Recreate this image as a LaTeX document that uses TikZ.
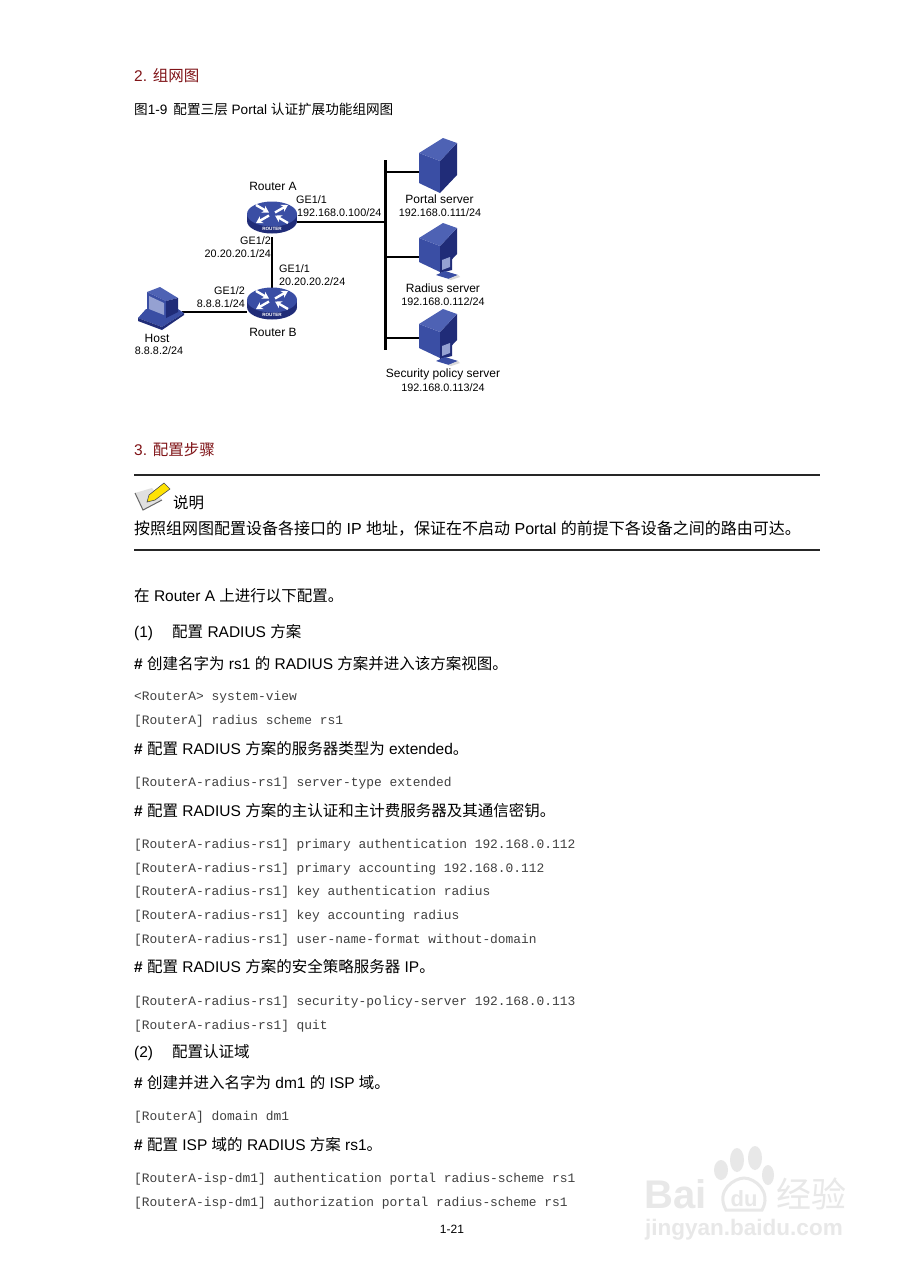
\documentclass[tikz,border=0pt]{standalone}
\usepackage{fontspec}
\setmainfont{Liberation Sans}
\setmonofont{Liberation Mono}
\newfontfamily\cjk{Noto Sans CJK SC}
\usetikzlibrary{arrows.meta, calc}
\newcommand{\zh}[1]{{\cjk #1}}
\definecolor{headred}{RGB}{128,20,24}
\definecolor{iconblue}{RGB}{58,78,164}
\definecolor{icondark}{RGB}{32,44,120}
\definecolor{iconlight}{RGB}{78,98,180}
\definecolor{wmgray}{RGB}{232,232,232}
\tikzset{
    body/.style={anchor=base west, inner sep=0pt, font=\fontsize{15.5}{18}\selectfont},
    heading/.style={body, text=headred},
    code/.style={anchor=base west, inner sep=0pt, text=black!75, font=\ttfamily\fontsize{12.9}{15}\selectfont},
    devlabel/.style={inner sep=0pt, font=\fontsize{12}{14}\selectfont},
    iplabel/.style={inner sep=0pt, font=\fontsize{10.8}{13}\selectfont},
    devbox/.style={inner sep=0pt, minimum width=#1, minimum height=30pt},
    link/.style={line width=2pt},
    bus/.style={line width=3pt},
    rulebar/.style={line width=2pt, black!85},
    mark arrow/.style={white, line width=2.4pt, -{Stealth[length=6.5pt,width=7.5pt]}},
}
% Router drawn around the centre of its node
\newcommand{\routericon}[1]{
    \begin{scope}[shift={(#1)}, yshift=8pt]
        \fill[icondark] (0,7) ellipse (25 and 12.5);
        \fill[icondark] (-25,0) rectangle (25,7);
        \fill[iconblue] (0,0) ellipse (25 and 12.5);
        \draw[mark arrow] (-16,-9) -- (-3,-1.5);
        \draw[mark arrow] (3,-1.5) -- (16,-9);
        \draw[mark arrow] (-3,1.5) -- (-16,9);
        \draw[mark arrow] (16,9) -- (3,1.5);
        \node[inner sep=0pt, white, font=\bfseries\fontsize{4.6}{5}\selectfont] at (0,15) {ROUTER};
    \end{scope}
}
% Tower, from its top left corner
\newcommand{\towericon}[2]{
    \begin{scope}[shift={(#1)}]
        \fill[iconblue] (0,15) -- (21,23) -- (21,#2) -- (0,{#2-10}) -- cycle;
        \fill[icondark] (21,23) -- (38,5) -- (38,{#2-18}) -- (21,#2) -- cycle;
        \fill[iconlight] (0,15) -- (24,0) -- (38,5) -- (21,23) -- cycle;
    \end{scope}
}
% Small screen and keyboard in front of a tower
\newcommand{\screenicon}[1]{
    \begin{scope}[shift={(#1)}]
        \fill[icondark] (21,35) -- (33,31) -- (33,47) -- (21,50) -- cycle;
        \fill[iconlight!60] (23,37) -- (31,34) -- (31,44) -- (23,47) -- cycle;
        \fill[iconblue] (17,52) -- (26,48) -- (39,52) -- (30,56) -- cycle;
        \fill[black!15] (29,56) -- (39,52) -- (41,54) -- (32,57) -- cycle;
    \end{scope}
}
\begin{document}
\begin{tikzpicture}[x=1pt, y=-1pt]
    \useasboundingbox (0,0) rectangle (905,1280);
    \fill[white] (0,0) rectangle (905,1280);

    % Headings of the page
    \node[heading] (headTwo) at (134,81) {2. \zh{组网图}};
    \node[body, font=\fontsize{13.6}{16}\selectfont] (figTitle) at (134,114) {\zh{图}1-9\hspace{6pt}\zh{配置三层} Portal \zh{认证扩展功能组网图}};
    \node[heading] (headThree) at (134,455) {3. \zh{配置步骤}};

    % Device nodes
    \node[devbox=50pt] (routerA) at (272,222) {};
    \node[devbox=50pt] (routerB) at (272,308) {};
    \node[devbox=44pt] (host) at (160,312) {};
    \node[devbox=36pt] (portal) at (437,172) {};
    \node[devbox=36pt] (radius) at (437,257) {};
    \node[devbox=36pt] (policy) at (437,338) {};
    \coordinate (busTop) at (385,160);
    \coordinate (busBot) at (385,350);

    % Connectors
    \draw[bus] (busTop) -- (busBot);
    \draw[link] (routerA) -- (routerA -| busTop);
    \draw[link] (routerA) -- (routerB);
    \draw[link] (host.east) -- (host.east -| routerB.west);
    \draw[link] (portal.west) -- (portal.west -| busTop);
    \draw[link] (radius.west) -- (radius.west -| busTop);
    \draw[link] (policy.west) -- (policy.west -| busTop);

    % Icons
    \routericon{routerA}
    \routericon{routerB}
    \towericon{419,138}{55}
    \towericon{419,223}{49}
    \screenicon{419,223}
    \towericon{419,309}{49}
    \screenicon{419,309}
    % Host terminal
    \fill[iconblue] (146,309) -- (178,309) -- (184,313) -- (162,327) -- (138,318) -- cycle;
    \fill[icondark] (138,318) -- (162,327) -- (184,313) -- (184,315) -- (162,330) -- (138,321) -- cycle;
    \fill[iconlight] (147,292) -- (160,287) -- (178,298) -- (166,301) -- cycle;
    \fill[iconblue] (147,292) -- (166,301) -- (166,318) -- (147,311) -- cycle;
    \fill[icondark] (166,301) -- (178,298) -- (178,312) -- (166,318) -- cycle;
    \fill[iconlight!60] (149,296) -- (164,303) -- (164,315) -- (149,309) -- cycle;

    % Device labels
    \node[devlabel] (routerAname) at (273,186) {Router A};
    \node[devlabel] (routerBname) at (273,332) {Router B};
    \node[devlabel] (hostName) at (157,338) {Host};
    \node[iplabel] (hostIp) at (159,351) {8.8.8.2/24};
    \node[devlabel] (portalName) at (439.5,199) {Portal server};
    \node[iplabel] (portalIp) at (440,213) {192.168.0.111/24};
    \node[devlabel] (radiusName) at (443,288) {Radius server};
    \node[iplabel] (radiusIp) at (443,302) {192.168.0.112/24};
    \node[devlabel] (policyName) at (443,374) {Security policy server};
    \node[iplabel] (policyIp) at (443,388) {192.168.0.113/24};

    % Interface labels
    \node[iplabel, anchor=west] (ifAone) at (296,200) {GE1/1};
    \node[iplabel, anchor=west] (ipAone) at (297,213) {192.168.0.100/24};
    \node[iplabel, anchor=east] (ifAtwo) at (271,241) {GE1/2};
    \node[iplabel, anchor=east] (ipAtwo) at (271,254) {20.20.20.1/24};
    \node[iplabel, anchor=west] (ifBone) at (279,269) {GE1/1};
    \node[iplabel, anchor=west] (ipBone) at (279,282) {20.20.20.2/24};
    \node[iplabel, anchor=east] (ifBtwo) at (245,291) {GE1/2};
    \node[iplabel, anchor=east] (ipBtwo) at (245,304) {8.8.8.1/24};

    % Note box
    \draw[rulebar] (134,474.5) -- (820,474.5);
    \draw[rulebar] (134,549.5) -- (820,549.5);
    \fill[black!12] (135,493) -- (152,488) -- (162,500) -- (143,510) -- cycle;
    \draw[black!60, line width=1pt] (135,493) -- (143,510) -- (162,500);
    \fill[yellow!85!orange] (147,502) -- (149,495) -- (164,483) -- (170,489) -- (155,500) -- cycle;
    \draw[black!70, line width=0.6pt] (147,502) -- (149,495) -- (164,483) -- (170,489) -- (155,500) -- cycle;
    \node[body] (noteHead) at (173,508) {\zh{说明}};
    \node[body, font=\fontsize{16}{18}\selectfont] (noteText) at (134,534) {\zh{按照组网图配置设备各接口的} IP \zh{地址\char"FF0C 保证在不启动} Portal \zh{的前提下各设备之间的路由可达。}};

    % Text lines
    \node[body] (introLine) at (134,601) {\zh{在} Router A \zh{上进行以下配置。}};
    \node[body] (stepOne) at (134,637) {(1)};
    \node[body] (stepOneText) at (172,637) {\zh{配置} RADIUS \zh{方案}};
    \node[body] (stepTwo) at (134,1057) {(2)};
    \node[body] (stepTwoText) at (172,1057) {\zh{配置认证域}};
    \foreach \y/\txt in {
        669/{\textbf{\#} \zh{创建名字为} rs1 \zh{的} RADIUS \zh{方案并进入该方案视图。}},
        754/{\textbf{\#} \zh{配置} RADIUS \zh{方案的服务器类型为} extended\zh{。}},
        816/{\textbf{\#} \zh{配置} RADIUS \zh{方案的主认证和主计费服务器及其通信密钥。}},
        972/{\textbf{\#} \zh{配置} RADIUS \zh{方案的安全策略服务器} IP\zh{。}},
        1088/{\textbf{\#} \zh{创建并进入名字为} dm1 \zh{的} ISP \zh{域。}},
        1150/{\textbf{\#} \zh{配置} ISP \zh{域的} RADIUS \zh{方案} rs1\zh{。}}}
    {
        \node[body] (cmt\y) at (134,\y) {\txt};
    }

    % Command lines
    \foreach \y/\txt in {
        700/{<RouterA> system-view},
        724/{[RouterA] radius scheme rs1},
        786/{[RouterA-radius-rs1] server-type extended},
        848/{[RouterA-radius-rs1] primary authentication 192.168.0.112},
        872/{[RouterA-radius-rs1] primary accounting 192.168.0.112},
        895/{[RouterA-radius-rs1] key authentication radius},
        919/{[RouterA-radius-rs1] key accounting radius},
        943/{[RouterA-radius-rs1] user-name-format without-domain},
        1005/{[RouterA-radius-rs1] security-policy-server 192.168.0.113},
        1029/{[RouterA-radius-rs1] quit},
        1120/{[RouterA] domain dm1},
        1182/{[RouterA-isp-dm1] authentication portal radius-scheme rs1},
        1206/{[RouterA-isp-dm1] authorization portal radius-scheme rs1}}
    {
        \node[code] (cli\y) at (134,\y) {\txt};
    }

    % Page number
    \node[inner sep=0pt, font=\fontsize{12}{14}\selectfont] (pageNo) at (452,1229) {1-21};

    % Watermark
    \fill[wmgray] (737,1160) ellipse (7 and 12);
    \fill[wmgray] (755,1158) ellipse (7 and 12);
    \fill[wmgray] (721,1170) ellipse (7 and 10);
    \fill[wmgray] (768,1175) ellipse (6 and 10);
    \draw[wmgray, line width=3pt] (726,1210) .. controls (715,1190) and (735,1178) .. (744,1178) .. controls (755,1178) and (772,1192) .. (762,1210) -- cycle;
    \node[anchor=base west, inner sep=0pt, text=wmgray, font=\bfseries\fontsize{40}{42}\selectfont] (wmBai) at (644,1208) {Bai};
    \node[anchor=base, inner sep=0pt, text=wmgray, font=\bfseries\fontsize{22}{24}\selectfont] (wmDu) at (744,1206) {du};
    \node[anchor=base west, inner sep=0pt, text=wmgray, font=\fontsize{35}{37}\selectfont] (wmJy) at (776,1207) {\zh{经验}};
    \node[anchor=base west, inner sep=0pt, text=wmgray, font=\bfseries\fontsize{22.5}{25}\selectfont] (wmUrl) at (645,1235) {jingyan.baidu.com};
\end{tikzpicture}
\end{document}
